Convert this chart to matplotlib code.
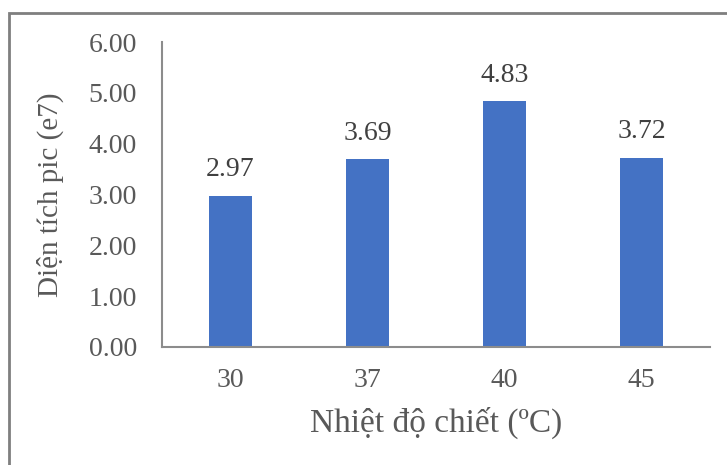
import numpy as np
import matplotlib.pyplot as plt
from matplotlib.patches import Rectangle

# data
temps = ["30", "37", "40", "45"]
areas = [2.97, 3.69, 4.83, 3.72]
yticks = [0, 1, 2, 3, 4, 5, 6]

plt.rcParams['font.family'] = ['Liberation Serif', 'DejaVu Serif']
txt = '#595959'
axc = '#8c8c8c'

fig = plt.figure(figsize=(7.27, 4.65), dpi=100)
ax = fig.add_axes([162 / 727, 1 - 347 / 465, 548 / 727, 305 / 465])

x = np.arange(len(temps))
bars = ax.bar(x, areas, width=0.31, color='#4472C4', zorder=2)
for xi, v in zip(x, areas):
    ax.annotate("%.2f" % v, (xi, v), xytext=(0, 10), textcoords='offset points',
                ha='center', va='bottom', fontsize=20, color='#404040')

ax.set_xlim(-0.5, 3.5)
ax.set_ylim(0, 6)
ax.set_xticks(x)
ax.set_xticklabels(temps)
ax.set_yticks(yticks)
ax.set_yticklabels(["%.2f" % t for t in yticks])
ax.tick_params(axis='both', length=0, labelsize=20, colors=txt)
ax.tick_params(axis='x', pad=15)
ax.tick_params(axis='y', pad=18)

for s in ['top', 'right']:
    ax.spines[s].set_visible(False)
for s in ['left', 'bottom']:
    ax.spines[s].set_color(axc)
    ax.spines[s].set_linewidth(1.5)

ax.set_xlabel("Nhiệt độ chiết (ºC)", fontsize=24, color=txt, labelpad=10)
ax.set_ylabel("Diện tích pic (e7)", fontsize=21, color=txt, labelpad=18)

# outer chart frame
fig.patches.append(Rectangle((9 / 727, -0.1), 1.2, 1 - 13 / 465 + 0.1,
                             transform=fig.transFigure, fill=False,
                             edgecolor='#7f7f7f', linewidth=2))

fig.savefig("out.png", dpi=100)
